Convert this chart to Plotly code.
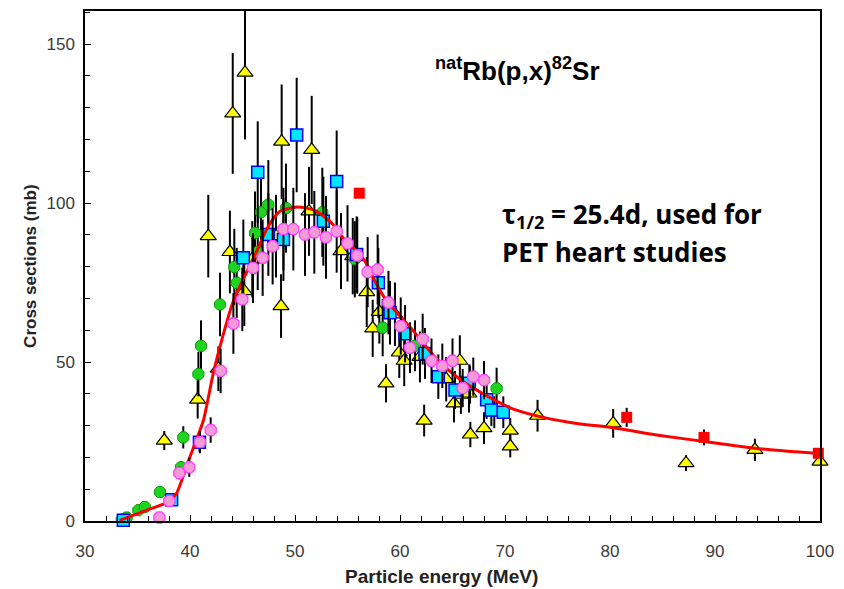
import plotly.graph_objects as go

# Yellow triangles
tri_e = [37.55, 40.73, 41.74, 42.7, 43.8, 44.07, 45.17, 45.24, 45.93, 48.19, 48.67, 48.73,
         51.33, 51.59, 54.38, 55.5, 56.83, 57.4, 58.03, 58.67, 59.52, 59.93, 60.4, 61.9,
         62.3, 64.4, 65.14, 65.7, 65.8, 66.57, 66.7, 68.0, 68.98, 70.5, 70.5, 73.1,
         80.3, 87.24, 93.8, 100.0]
tri_s = [25.3, 38.2, 89.6, 47.9, 84.6, 128.2, 72.3, 141.0, 82.3, 89.6, 67.6, 119.3,
         97.4, 116.7, 84.9, 83.3, 72.0, 60.6, 65.8, 43.3, 65.0, 53.0, 50.4, 51.6,
         31.6, 44.6, 37.0, 50.4, 39.7, 40.1, 27.2, 29.2, 34.2, 28.4, 23.5, 33.1,
         30.7, 18.2, 22.4, 18.7]
tri_err = [3, 6, 13, 7, 13, 19, 11, 21, 12, 13, 10, 18,
           14, 17, 12, 12, 11, 9, 10, 6, 10, 8, 8, 8,
           5, 7, 6, 8, 6, 6, 4, 5, 5, 4, 3.5, 5,
           4.5, 2.5, 3.5, 1]

# Cyan squares
cy_e = [33.65, 38.25, 40.9, 45.08, 46.45, 47.46, 48.9, 50.16, 52.7, 53.97, 55.87, 57.94,
        59.05, 60.48, 62.38, 63.65, 65.24, 66.6, 68.25, 68.7, 69.84]
cy_s = [0.2, 6.7, 24.8, 82.8, 109.7, 90.1, 88.5, 121.4, 94.3, 106.8, 83.8, 74.9,
        65.5, 58.9, 52.7, 45.4, 41.2, 43.3, 38.1, 34.9, 34.2]
cy_err = [0, 1, 3, 12, 16, 13, 13, 18, 14, 16, 12, 11,
          10, 9, 8, 7, 6, 6, 6, 5, 5]

# Green circles
gr_e = [33.5, 33.97, 35.08, 35.7, 37.14, 39.14, 39.36, 40.8, 41.05, 42.86, 44.22, 44.45,
        46.19, 46.45, 46.76, 47.46, 49.14, 52.6, 55.7, 58.35, 61.43, 66.67, 69.2]
gr_s = [0.4, 1.1, 3.4, 4.4, 9.1, 16.9, 26.3, 46.2, 55.1, 68.1, 79.9, 74.9,
        90.6, 84.6, 97.1, 99.5, 98.4, 97.1, 82.3, 60.8, 55.1, 42.9, 41.7]
gr_err = [0, 0, 0.5, 0.5, 1, 2, 3.5, 7, 8, 10, 12, 11,
          13, 12, 14, 14, 14, 14, 12, 9, 8, 6, 6.5]

# Pink circles
pk_e = [37.08, 38.03, 38.98, 39.93, 40.95, 41.97, 42.92, 44.13, 44.98, 46.0, 46.92, 47.87,
        48.9, 49.84, 50.95, 51.84, 52.95, 53.97, 55.0, 55.93, 56.92, 57.87, 58.9, 60.07,
        60.95, 62.16, 63.0, 64.03, 65.0, 65.97, 66.98, 68.0]
pk_s = [1.1, 6.3, 15.1, 16.9, 24.8, 28.6, 47.2, 62.1, 69.7, 79.6, 82.8, 86.4,
        91.8, 91.8, 90.1, 90.8, 89.2, 91.1, 87.3, 83.5, 78.3, 79.1, 68.7, 61.3,
        54.5, 57.2, 50.4, 48.8, 50.4, 41.8, 45.4, 44.3]
pk_err = [0, 1, 2, 3, 3.5, 4, 7, 9.5, 10, 11, 12, 12,
          13, 13, 13, 13, 13, 13, 12, 12, 11, 11, 10, 9,
          8, 8, 7, 7, 7, 6, 6, 6]

# Red squares
rd_e = [56.12, 81.59, 88.95, 99.84]
rd_s = [103.1, 32.6, 26.3, 21.3]
rd_err = [0, 3, 2.5, 1]

# Fit curve
fit_e = [33.3, 35.9, 37.9, 38.7, 39.93, 41.27, 42.2, 43.17, 44.13, 46.2, 47.46, 48.57,
         50.0, 51.1, 52.06, 53.5, 54.6, 55.7, 56.67, 57.6, 58.73, 61.27, 63.5, 65.7,
         68.25, 70.8, 73.65, 77.0, 80.0, 84.76, 89.5, 94.3, 100.0]
fit_s = [0.2, 3.4, 6.0, 8.6, 19.6, 31.6, 46.2, 58.7, 69.2, 83.8, 92.7, 97.4,
         98.7, 98.4, 97.4, 93.7, 89.0, 85.4, 81.7, 75.5, 69.2, 59.8, 50.9, 44.6,
         39.4, 35.2, 32.6, 30.6, 29.5, 26.9, 24.8, 22.7, 21.2]

x_ticks = [30, 40, 50, 60, 70, 80, 90, 100]
y_ticks = [0, 50, 100, 150]


def eb(arr):
    return dict(type="data", array=arr, visible=True, color="black", thickness=2, width=0)


fig = go.Figure()
fig.add_trace(go.Scatter(x=tri_e, y=tri_s, mode="markers", error_y=eb(tri_err), cliponaxis=False,
                         marker=dict(symbol="triangle-up", size=14, color="#ffff00",
                                     line=dict(color="black", width=1.2))))
fig.add_trace(go.Scatter(x=gr_e, y=gr_s, mode="markers", error_y=eb(gr_err), cliponaxis=False,
                         marker=dict(symbol="octagon", size=12, color="#1ed41e",
                                     line=dict(color="#109a10", width=1))))
fig.add_trace(go.Scatter(x=cy_e, y=cy_s, mode="markers", error_y=eb(cy_err), cliponaxis=False,
                         marker=dict(symbol="square", size=12, color="#00e6ff",
                                     line=dict(color="#0000ff", width=1.5))))
fig.add_trace(go.Scatter(x=fit_e, y=fit_s, mode="lines",
                         line=dict(color="#ff0000", width=3, shape="spline", smoothing=0.6)))
fig.add_trace(go.Scatter(x=pk_e, y=pk_s, mode="markers", error_y=eb(pk_err), cliponaxis=False,
                         marker=dict(symbol="octagon", size=12, color="#f59ad8",
                                     line=dict(color="#ff40ff", width=1.3))))
fig.add_trace(go.Scatter(x=rd_e, y=rd_s, mode="markers", error_y=eb(rd_err), cliponaxis=False,
                         marker=dict(symbol="square", size=11, color="#ff0000",
                                     line=dict(width=0))))

axis_common = dict(showgrid=False, zeroline=False, showline=True, linecolor="black", linewidth=1.5,
                   mirror=True, ticks="inside", tickcolor="black", ticklen=6, tickwidth=1.2,
                   tickfont=dict(family="Liberation Sans, Arial, sans-serif", size=17, color="#3a3a3a"))

fig.update_xaxes(range=[30, 100], tickvals=x_ticks, ticklabelstandoff=14,
                 minor=dict(dtick=2, ticks="inside", ticklen=5, tickcolor="black", tickwidth=1),
                 **axis_common)
fig.update_yaxes(range=[0, 160.4], tickvals=y_ticks, ticklabelstandoff=5,
                 minor=dict(dtick=10, ticks="inside", ticklen=5, tickcolor="black", tickwidth=1),
                 **axis_common)

fig.update_layout(
    width=844, height=589, showlegend=False,
    margin=dict(l=77, r=32, t=1, b=76),
    plot_bgcolor="white", paper_bgcolor="white",
    annotations=[
        dict(text="<b>Particle energy (MeV)</b>", xref="paper", yref="paper", x=0.4857, y=-0.109,
             xanchor="center", yanchor="middle", showarrow=False,
             font=dict(family="Liberation Sans, Arial, sans-serif", size=19, color="#222")),
        dict(text="<b>Cross sections (mb)</b>", xref="paper", yref="paper", x=-0.075, y=0.5,
             xanchor="center", yanchor="middle", textangle=-90, showarrow=False,
             font=dict(family="Liberation Sans, Arial, sans-serif", size=17, color="#222")),
        dict(text="<b><sup>nat</sup>Rb(p,x)<sup>82</sup>Sr</b>", xref="paper", yref="paper",
             x=0.473, y=0.885, xanchor="left", yanchor="middle", showarrow=False,
             font=dict(family="Liberation Sans, Arial, sans-serif", size=26, color="black")),
        dict(text="<b>τ<sub>1/2</sub> = 25.4d, used for</b>", xref="paper", yref="paper",
             x=0.565, y=0.6, xanchor="left", yanchor="middle", showarrow=False,
             font=dict(family="Open Sans, sans-serif", size=26, color="black")),
        dict(text="<b>PET heart studies</b>", xref="paper", yref="paper",
             x=0.565, y=0.528, xanchor="left", yanchor="middle", showarrow=False,
             font=dict(family="Open Sans, sans-serif", size=26, color="black")),
    ],
)

fig.write_html("out.html")
